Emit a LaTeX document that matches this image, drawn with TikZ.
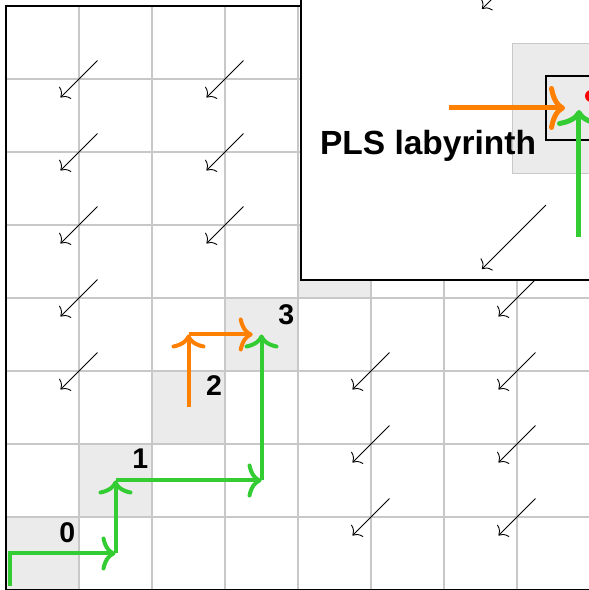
\documentclass[tikz,border=0pt]{standalone}
\usepackage{fontspec}
\setmainfont{Liberation Sans}
\usetikzlibrary{arrows.meta}
\definecolor{cellgray}{HTML}{EBEBEB}
\definecolor{gridgray}{HTML}{C8C8C8}
\definecolor{pathgreen}{HTML}{33CC33}
\definecolor{pathorange}{HTML}{FF8000}

\begin{document}
\begin{tikzpicture}[x=73pt,y=73pt,
  gridline/.style={gridgray, line width=1.3pt},
  frame/.style={black, line width=2.6pt},
  flow/.style={black, line width=0.9pt, -{Computer Modern Rightarrow[length=7pt,width=17pt]}},
  move/.style={line width=4pt, -{Computer Modern Rightarrow[length=14pt,width=34pt]}},
  bigmove/.style={line width=5pt, -{Computer Modern Rightarrow[length=16pt,width=44pt]}},
  stage/.style={font=\bfseries\fontsize{28.5}{30}\selectfont, inner sep=0pt},
]
\useasboundingbox (-0.0822,0) rectangle (7.9863,8.0822);
\clip (-0.0822,0) rectangle (7.9863,8.0822);

% diagonal cells and the board
\foreach \k in {0,...,7} \fill[cellgray] (\k,\k) rectangle ++(1,1);
\foreach \k in {1,...,7} {
  \draw[gridline] (\k,0) -- (\k,8);
  \draw[gridline] (0,\k) -- (8,\k);
}
\draw[frame] (0,0) rectangle (8,8);

% flow field
\foreach \i/\j in {1/3,1/4,1/5,1/6,1/7,3/5,3/6,3/7,5/1,5/2,5/3,7/1,7/2,7/3,7/4}
  \draw[flow] (\i+0.253,\j+0.253) -- (\i-0.253,\j-0.253);

% stage labels
\node[stage] (s0) at (0.84,0.79) {0};
\node[stage] (s1) at (1.84,1.80) {1};
\node[stage] (s2) at (2.85,2.80) {2};
\node[stage] (s3) at (3.84,3.77) {3};

% green route
\coordinate (g0) at (0.058,0.058);
\coordinate (g1) at (0.058,0.5);
\coordinate (g2) at (1.5,0.5);
\coordinate (g3) at (1.5,1.5);
\coordinate (g4) at (3.5,1.5);
\coordinate (g5) at (3.5,3.5);
\draw[move, pathgreen] (g0) -- (g1) -- (g2);
\draw[move, pathgreen] (g2) -- (g3);
\draw[move, pathgreen] (g3) -- (g4);
\draw[move, pathgreen] (g4) -- (g5);

% orange route
\coordinate (o0) at (2.5,2.5);
\coordinate (o1) at (2.5,3.5);
\coordinate (o2) at (3.38,3.5);
\draw[move, pathorange] (o0) -- (o1);
\draw[move, pathorange] (o1) -- (o2);

% magnified view
\coordinate (zoomsw) at (4.041,4.247);
\coordinate (zoomne) at (8.3,8.3);
\fill[white] (zoomsw) rectangle (zoomne);
\filldraw[fill=cellgray, draw=gridgray, line width=1pt] (6.945,5.712) rectangle (8.9,7.493);
\draw[black, line width=1.3pt] (7.397,6.164) rectangle (8.9,7.041);
\draw[flow] (7.397,5.274) -- (6.521,4.397);
\draw[flow] (7.397,8.84) -- (6.521,7.96);
\coordinate (zo0) at (6.068,6.603);
\coordinate (zo1) at (7.658,6.603);
\coordinate (zg0) at (7.849,4.836);
\coordinate (zg1) at (7.849,6.575);
\draw[bigmove, pathorange] (zo0) -- (zo1);
\draw[bigmove, pathgreen] (zg0) -- (zg1);
\fill[red] (8.014,6.767) circle (0.082);
\node[anchor=base west, font=\bfseries\fontsize{33.5}{35}\selectfont, inner sep=0pt] (title) at (4.3,5.959) {PLS labyrinth};
\draw[frame] (zoomsw) rectangle (zoomne);
\end{tikzpicture}
\end{document}
